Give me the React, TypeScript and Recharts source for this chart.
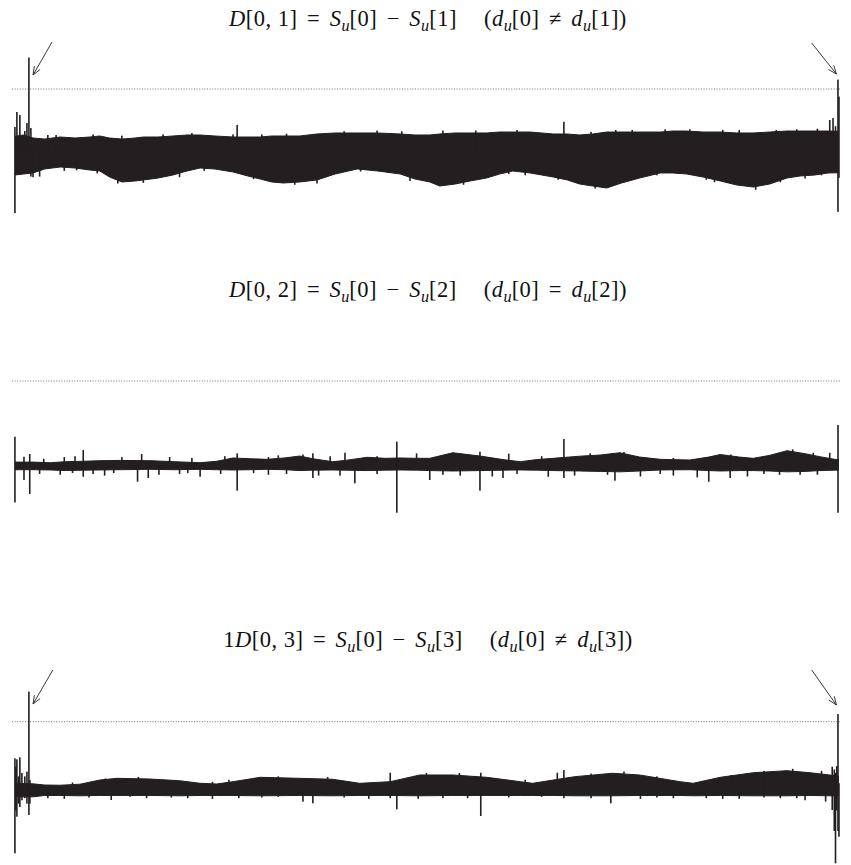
import React from 'react';
import { ComposedChart, Area, Bar, XAxis, YAxis, ReferenceLine } from 'recharts';

// ---------- Panel 1 : D[0,1] ----------
const p1Samples = [0, 10, 22, 36, 55, 73, 91, 103, 115, 130, 146, 156, 174, 192, 209, 225, 243, 265, 283, 298, 312, 326, 346, 367, 389, 416, 441, 468, 486, 504, 516, 535, 553, 573, 589, 605, 626, 654, 671, 686, 702, 719, 737, 759, 784, 799, 816, 836, 857, 877, 897, 917, 938, 954, 972, 988, 1001];
const p1Upper = [0.25, 0.27, 0.222, 0.206, 0.238, 0.222, 0.238, 0.254, 0.222, 0.206, 0.222, 0.238, 0.238, 0.254, 0.27, 0.27, 0.254, 0.238, 0.238, 0.238, 0.254, 0.254, 0.254, 0.286, 0.302, 0.302, 0.302, 0.286, 0.27, 0.27, 0.286, 0.302, 0.302, 0.302, 0.317, 0.317, 0.317, 0.286, 0.286, 0.27, 0.286, 0.317, 0.317, 0.317, 0.317, 0.333, 0.333, 0.317, 0.317, 0.302, 0.302, 0.317, 0.333, 0.333, 0.333, 0.333, 0.33];
const p1Lower = [-0.365, -0.35, -0.333, -0.27, -0.238, -0.254, -0.286, -0.302, -0.397, -0.476, -0.46, -0.444, -0.413, -0.365, -0.302, -0.254, -0.27, -0.317, -0.381, -0.429, -0.476, -0.492, -0.476, -0.444, -0.349, -0.27, -0.302, -0.349, -0.429, -0.476, -0.54, -0.508, -0.46, -0.413, -0.349, -0.302, -0.333, -0.397, -0.444, -0.508, -0.54, -0.571, -0.492, -0.413, -0.333, -0.333, -0.349, -0.397, -0.46, -0.524, -0.556, -0.508, -0.413, -0.381, -0.365, -0.333, -0.33];
const p1SpikeAt = [0, 2.4, 6, 12, 14.6, 17, 19.4, 22, 40, 60, 130, 156, 265, 270, 367, 400, 520, 600, 667, 750, 840, 860, 950, 960, 990, 994, 997, 1000, 1001.2];
const p1SpikeTop = [0.397, 0.635, 0.587, 0.333, 0.46, 1.5, 0.38, 0, 0.27, 0, 0.26, 0, 0.28, 0.43, 0, 0.33, 0.34, 0, 0.48, 0.35, 0, 0.35, 0.36, 0, 0.508, 0.54, 0.41, 1.15, 0.88];
const p1SpikeBottom = [-0.97, 0, 0, 0, 0, 0, -0.39, -0.4, 0, -0.3, 0, -0.49, 0, 0, -0.5, 0, 0, -0.35, 0, 0, -0.44, 0, 0, -0.42, 0, 0, 0, -0.95, -0.41];
// small ticks along the ragged edges
const p1EdgeUpAt = [50, 95, 180, 215, 300, 330, 440, 470, 560, 610, 700, 730, 790, 820, 880, 925, 975];
const p1EdgeUp = [0.27, 0.28, 0.28, 0.3, 0.28, 0.29, 0.34, 0.33, 0.34, 0.35, 0.32, 0.35, 0.36, 0.36, 0.35, 0.35, 0.37];
const p1EdgeDownAt = [30, 75, 100, 125, 200, 230, 290, 340, 420, 480, 545, 620, 660, 705, 780, 850, 900, 930, 980];
const p1EdgeDown = [-0.39, -0.29, -0.34, -0.5, -0.4, -0.3, -0.43, -0.52, -0.31, -0.46, -0.52, -0.37, -0.44, -0.58, -0.37, -0.48, -0.6, -0.48, -0.37];

// ---------- Panel 2 : D[0,2] ----------
const p2Samples = [0, 22, 43, 61, 83, 103, 128, 164, 194, 225, 245, 265, 286, 306, 328, 346, 362, 386, 401, 428, 450, 468, 488, 504, 532, 565, 593, 614, 634, 654, 686, 711, 735, 759, 784, 820, 843, 857, 880, 897, 917, 938, 960, 978, 996, 1001];
const p2Upper = [0.04, 0.04, 0.033, 0.045, 0.05, 0.057, 0.06, 0.057, 0.045, 0.033, 0.05, 0.089, 0.08, 0.073, 0.09, 0.112, 0.08, 0.045, 0.06, 0.097, 0.085, 0.089, 0.085, 0.085, 0.151, 0.112, 0.07, 0.045, 0.07, 0.085, 0.11, 0.124, 0.151, 0.1, 0.073, 0.065, 0.1, 0.13, 0.1, 0.085, 0.12, 0.175, 0.14, 0.104, 0.073, 0.07];
const p2Lower = [-0.05, -0.05, -0.053, -0.06, -0.055, -0.053, -0.05, -0.045, -0.05, -0.045, -0.05, -0.053, -0.05, -0.045, -0.05, -0.06, -0.055, -0.053, -0.055, -0.06, -0.055, -0.053, -0.055, -0.06, -0.065, -0.06, -0.055, -0.053, -0.055, -0.06, -0.065, -0.07, -0.075, -0.065, -0.053, -0.05, -0.06, -0.065, -0.06, -0.06, -0.065, -0.075, -0.07, -0.06, -0.055, -0.055];
const p2SpikeAt = [0, 11, 18, 55, 73, 83, 109, 149, 154, 162, 188, 200, 225, 270, 308, 362, 369, 383, 401, 413, 464, 488, 504, 541, 565, 593, 648, 667, 699, 729, 784, 829, 843, 869, 929, 954, 990, 1000];
const p2SpikeTop = [0.341, 0.104, 0.136, 0, 0.11, 0.183, 0, 0, 0.136, 0, 0.1, 0, 0, 0.144, 0.1, 0.144, 0, 0.11, 0.151, 0, 0.282, 0.144, 0, 0, 0.163, 0, 0, 0.314, 0.144, 0, 0, 0, 0, 0, 0, 0, 0.15, 0.479];
const p2SpikeBottom = [-0.438, -0.172, -0.337, -0.11, 0, -0.133, -0.12, -0.192, 0, -0.148, 0, -0.1, -0.133, -0.298, -0.11, -0.148, -0.12, 0, 0, -0.211, -0.559, 0, -0.172, -0.12, -0.298, -0.148, -0.133, -0.148, 0, -0.18, -0.1, -0.14, -0.192, -0.148, -0.11, -0.11, 0, -0.559];
const p2EdgeUpAt = [35, 60, 130, 215, 255, 320, 350, 440, 520, 600, 640, 740, 800, 870, 945, 970];
const p2EdgeUp = [0.08, 0.1, 0.1, 0.09, 0.11, 0.12, 0.13, 0.11, 0.1, 0.14, 0.11, 0.16, 0.09, 0.13, 0.19, 0.15];
const p2EdgeDownAt = [30, 70, 95, 120, 175, 210, 250, 290, 330, 395, 440, 520, 580, 610, 680, 720, 760, 800, 890, 910, 975];
const p2EdgeDown = [-0.1, -0.09, -0.1, -0.09, -0.11, -0.09, -0.1, -0.09, -0.1, -0.12, -0.1, -0.11, -0.13, -0.1, -0.12, -0.11, -0.13, -0.12, -0.13, -0.1, -0.11];

// ---------- Panel 3 : D[0,3] ----------
const p3Samples = [0, 22, 36, 55, 79, 103, 124, 164, 200, 225, 245, 265, 298, 346, 386, 419, 456, 492, 532, 573, 614, 629, 654, 680, 726, 759, 808, 824, 857, 897, 938, 966, 990, 1001];
const p3Upper = [0.1, 0.09, 0.073, 0.07, 0.085, 0.146, 0.171, 0.161, 0.136, 0.098, 0.088, 0.122, 0.186, 0.171, 0.157, 0.098, 0.122, 0.22, 0.22, 0.186, 0.122, 0.098, 0.146, 0.195, 0.245, 0.22, 0.122, 0.098, 0.186, 0.253, 0.283, 0.253, 0.22, 0.2];
const p3Lower = [-0.1, -0.1, -0.08, -0.08, -0.085, -0.08, -0.08, -0.08, -0.085, -0.08, -0.08, -0.08, -0.085, -0.08, -0.085, -0.08, -0.08, -0.085, -0.08, -0.08, -0.08, -0.08, -0.08, -0.085, -0.085, -0.08, -0.08, -0.085, -0.08, -0.085, -0.085, -0.08, -0.085, -0.085];
const p3SpikeAt = [0, 1.2, 2.4, 4.3, 6, 8.5, 12, 14.6, 17, 18.2, 60, 117, 160, 240, 272, 350, 362, 430, 456, 464, 520, 566, 659, 667, 724, 760, 800, 860, 930, 960, 993, 995.5, 997, 998.5, 1000, 1001.2];
const p3SpikeTop = [0.464, 0.341, 0.449, 0.2, 0.479, 0.25, 0.2, 0.268, 1.44, 0.146, 0, 0, 0, 0.12, 0, 0, 0, 0, 0.253, 0, 0, 0.253, 0.253, 0.293, 0, 0, 0, 0, 0, 0, 0.341, 0.3, 0.25, 0.35, 1.113, 0.1];
const p3SpikeBottom = [-0.927, -0.3, -0.391, -0.2, -0.25, -0.15, -0.12, -0.2, -0.366, -0.2, -0.13, -0.146, -0.12, -0.13, -0.12, -0.171, -0.195, -0.13, -0.12, -0.283, -0.12, -0.381, 0, -0.12, -0.195, -0.13, -0.12, -0.13, -0.12, -0.15, -0.293, -0.6, -1.074, -0.3, -0.6, -0.684];
const p3EdgeUpAt = [70, 110, 150, 260, 320, 380, 500, 540, 620, 700, 740, 780, 870, 910, 945, 980];
const p3EdgeUp = [0.11, 0.17, 0.19, 0.15, 0.2, 0.19, 0.25, 0.25, 0.15, 0.24, 0.27, 0.2, 0.22, 0.28, 0.31, 0.28];
const p3EdgeDownAt = [40, 90, 140, 190, 210, 300, 320, 400, 490, 550, 600, 640, 700, 780, 840, 880, 910, 950, 985];
const p3EdgeDown = [-0.12, -0.11, -0.1, -0.11, -0.12, -0.11, -0.1, -0.11, -0.13, -0.12, -0.11, -0.1, -0.12, -0.11, -0.12, -0.13, -0.11, -0.12, -0.17];

// ---------- Titles ----------
const titlePrefix = ['', '', '1'];
const titleIndex = ['1', '2', '3'];
const titleRelation = ['≠', '=', '≠'];

// ---------- Arrows (data units) ----------
const p1Arrows = [
  { from: [45, 1.746], to: [22, 1.222] },
  { from: [968, 1.73], to: [998, 1.238] },
];
const p3Arrows = [
  { from: [46, 1.757], to: [22, 1.259] },
  { from: [968, 1.757], to: [998, 1.245] },
];

const INK = '#231f20';
const X_DOMAIN: [number, number] = [-3.6, 1002.4];
const MARGIN = { top: 0, right: 11, bottom: 0, left: 12 };

const emptyTick = () => <g />;

const ArrowShape = (props: any) => {
  const { x1, y1, x2, y2 } = props;
  const ang = Math.atan2(y2 - y1, x2 - x1);
  const L = 9;
  const a = 0.38;
  const ax = x2 - L * Math.cos(ang - a);
  const ay = y2 - L * Math.sin(ang - a);
  const bx = x2 - L * Math.cos(ang + a);
  const by = y2 - L * Math.sin(ang + a);
  return (
    <g>
      <line x1={x1} y1={y1} x2={x2} y2={y2} stroke="#222" strokeWidth={0.9} />
      <polyline points={`${ax},${ay} ${x2},${y2} ${bx},${by}`} fill="none" stroke="#222" strokeWidth={0.9} />
    </g>
  );
};

// spike drawn as a thin vertical stroke centred on the bar's slot
const SpikeShape = (props: any) => {
  const { x, y, width, height } = props;
  if (x == null || y == null || height == null) return <g />;
  const cx = x + (width || 0) / 2;
  const top = height < 0 ? y + height : y;
  const h = Math.abs(height);
  return <rect x={cx - 0.8} y={top} width={1.6} height={Math.max(h, 0.5)} fill={INK} />;
};

function buildEnv(s: number[], hi: number[], lo: number[]) {
  return s.map((v, i) => ({ s: v, band: [lo[i], hi[i]] }));
}
function buildSpikes(s: number[], top: number[], bottom: number[],
  upAt: number[], up: number[], downAt: number[], down: number[]) {
  const rows = s.map((v, i) => ({ s: v, range: [bottom[i], top[i]] }));
  upAt.forEach((v, i) => rows.push({ s: v, range: [0, up[i]] }));
  downAt.forEach((v, i) => rows.push({ s: v, range: [down[i], 0] }));
  return rows.sort((a, b) => a.s - b.s);
}

type PanelProps = {
  top: number;
  height: number;
  domain: [number, number];
  env: any[];
  spikes: any[];
  arrows: { from: number[]; to: number[] }[];
};

function Panel({ top, height, domain, env, spikes, arrows }: PanelProps) {
  return (
    <div style={{ position: 'absolute', left: 0, top, width: 851, height }}>
      <div style={{ position: 'absolute', left: 0, top: 0 }}>
        <ComposedChart width={851} height={height} data={env} margin={MARGIN}>
          <XAxis type="number" dataKey="s" domain={X_DOMAIN} hide allowDataOverflow />
          <YAxis yAxisId="l" type="number" domain={domain} ticks={[0, 1]} interval={0} width={0}
            axisLine={false} tickLine={{ stroke: '#111', strokeWidth: 1 }} tickSize={7} tick={emptyTick} allowDataOverflow />
          <YAxis yAxisId="r" orientation="right" type="number" domain={domain} ticks={[0, 1]} interval={0} width={0}
            axisLine={false} tickLine={{ stroke: '#111', strokeWidth: 1 }} tickSize={7} tick={emptyTick} allowDataOverflow />
          <ReferenceLine yAxisId="l" y={1} stroke="#555" strokeWidth={0.8} strokeDasharray="1 1.6" />
          <Area yAxisId="l" dataKey="band" type="linear" fill={INK} fillOpacity={1} stroke={INK}
            strokeWidth={1} dot={false} activeDot={false} isAnimationActive={false} />
          {arrows.map((a, i) => (
            <ReferenceLine key={i} yAxisId="l" ifOverflow="visible"
              segment={[{ x: a.from[0], y: a.from[1] }, { x: a.to[0], y: a.to[1] }]}
              shape={ArrowShape} />
          ))}
        </ComposedChart>
      </div>
      <div style={{ position: 'absolute', left: 0, top: 0 }}>
        <ComposedChart width={851} height={height} data={spikes} margin={MARGIN}>
          <XAxis type="number" dataKey="s" domain={X_DOMAIN} hide allowDataOverflow />
          <YAxis type="number" domain={domain} hide allowDataOverflow width={0} />
          <Bar dataKey="range" barSize={1.6} fill={INK} shape={SpikeShape} isAnimationActive={false} />
        </ComposedChart>
      </div>
    </div>
  );
}

const Sub = ({ children }: { children: React.ReactNode }) => (
  <span style={{ fontSize: '0.72em', fontStyle: 'italic', position: 'relative', top: '0.3em', letterSpacing: 0 }}>{children}</span>
);
const Op = ({ c }: { c: string }) => <span style={{ margin: '0 0.42em' }}>{c}</span>;

function Title({ top, i }: { top: number; i: number }) {
  const k = titleIndex[i];
  return (
    <div style={{
      position: 'absolute', left: 0, top, width: 856, textAlign: 'center',
      fontFamily: '"Liberation Serif", "DejaVu Serif", serif', fontSize: 22.5, lineHeight: '22px',
      letterSpacing: '0.5px', whiteSpace: 'nowrap', color: '#111',
    }}>
      {titlePrefix[i]}<i>D</i>[0, {k}]<Op c="=" /><i>S</i><Sub>u</Sub>[0]<Op c="−" /><i>S</i><Sub>u</Sub>[{k}]
      <span style={{ display: 'inline-block', width: '1.2em' }} />
      (<i>d</i><Sub>u</Sub>[0]<Op c={titleRelation[i]} /><i>d</i><Sub>u</Sub>[{k}])
    </div>
  );
}

export default function App() {
  return (
    <div style={{ position: 'absolute', left: 0, top: 0, width: 851, height: 865, background: '#fff', overflow: 'hidden' }}>
      <Panel top={0} height={225} domain={[-1.1587, 2.4127]}
        env={buildEnv(p1Samples, p1Upper, p1Lower)}
        spikes={buildSpikes(p1SpikeAt, p1SpikeTop, p1SpikeBottom, p1EdgeUpAt, p1EdgeUp, p1EdgeDownAt, p1EdgeDown)}
        arrows={p1Arrows} />
      <Panel top={270} height={255} domain={[-0.7041, 2.3136]}
        env={buildEnv(p2Samples, p2Upper, p2Lower)}
        spikes={buildSpikes(p2SpikeAt, p2SpikeTop, p2SpikeBottom, p2EdgeUpAt, p2EdgeUp, p2EdgeDownAt, p2EdgeDown)}
        arrows={[]} />
      <Panel top={620} height={245} domain={[-1.098, 2.489]}
        env={buildEnv(p3Samples, p3Upper, p3Lower)}
        spikes={buildSpikes(p3SpikeAt, p3SpikeTop, p3SpikeBottom, p3EdgeUpAt, p3EdgeUp, p3EdgeDownAt, p3EdgeDown)}
        arrows={p3Arrows} />
      <Title top={8.4} i={0} />
      <Title top={279.4} i={1} />
      <Title top={629.4} i={2} />
    </div>
  );
}
